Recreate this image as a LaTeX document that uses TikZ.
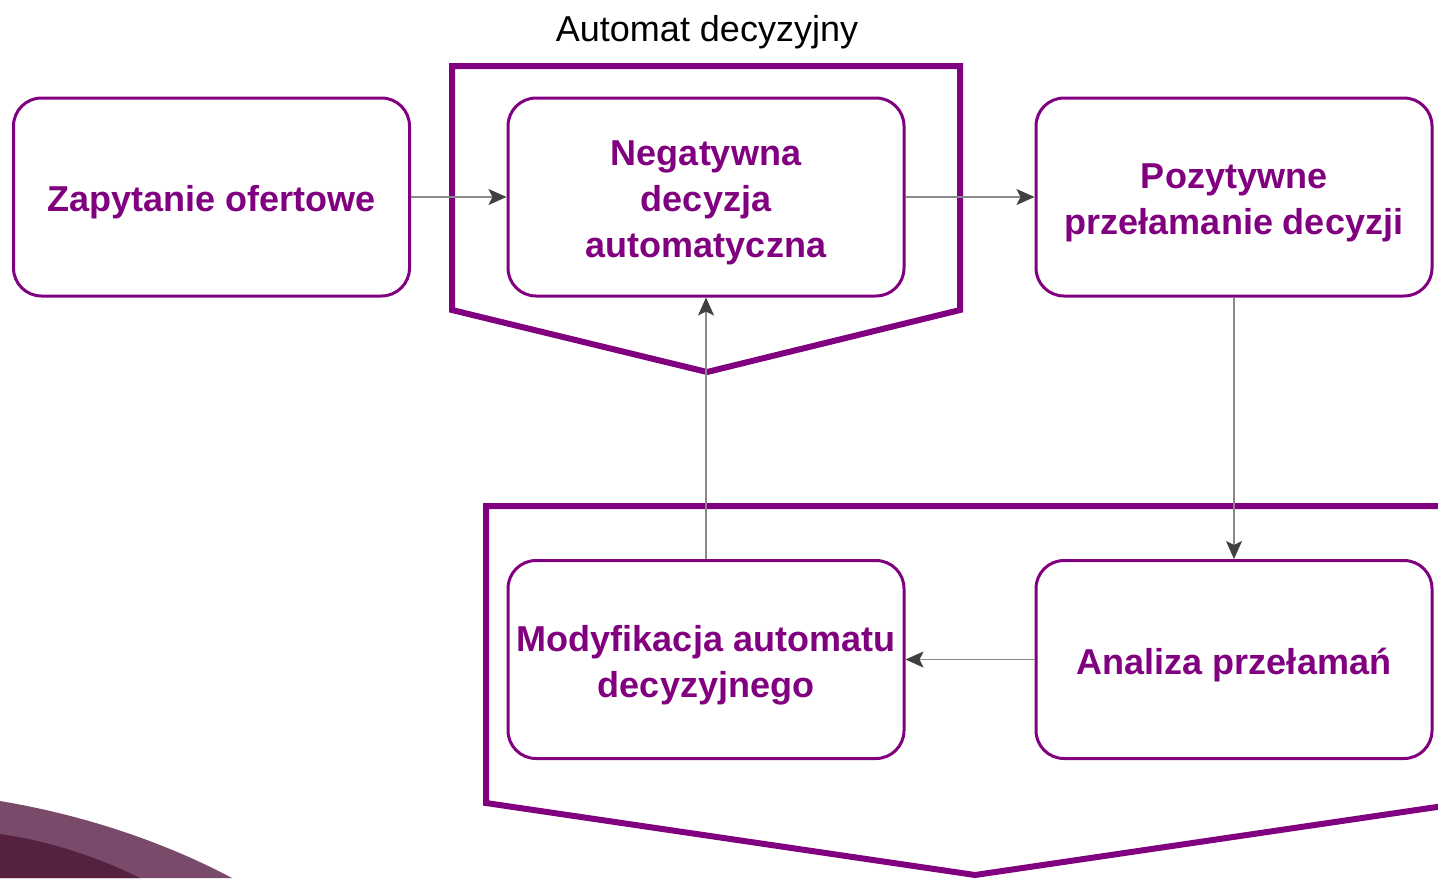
\documentclass[tikz,border=0pt]{standalone}
\usepackage{fontspec}
\setmainfont{Liberation Sans}
\usetikzlibrary{arrows.meta}
\definecolor{pur}{HTML}{800080}
\definecolor{conn}{HTML}{8A8A8A}
\definecolor{tipc}{HTML}{404040}
\definecolor{swlight}{HTML}{7A4A6A}
\definecolor{swdark}{HTML}{56203F}
\tikzset{
  box/.style={draw=pur, line width=1.5pt, rounded corners=14pt, fill=white,
    minimum width=198pt, minimum height=99pt, inner sep=0pt},
  lbl/.style={align=center, inner sep=0pt, yshift=-2.75pt,
    text=pur, font=\fontsize{18}{23}\selectfont\bfseries},
  frame/.style={draw=pur, line width=3pt},
  conn/.style={draw=conn, line width=0.6pt, -{Stealth[length=9pt,width=8pt,inset=2pt,fill=tipc,color=tipc]}},
}
\begin{document}
\begin{tikzpicture}[x=0.5pt,y=-0.5pt]
\useasboundingbox (0,0) rectangle (1438,878);
% swoosh
\fill[swlight] (0,801) .. controls (90,816) and (170,845) .. (232,878) -- (0,878) -- cycle;
\fill[swdark] (0,834) .. controls (50,841) and (100,858) .. (140,878) -- (0,878) -- cycle;
% frames
\draw[frame] (452,310) -- (452,66) -- (960,66) -- (960,310) -- (707,372) -- cycle;
\begin{scope}
\clip (0,0) rectangle (1438,878);
\draw[frame] (486,803) -- (486,506) -- (1464,506) -- (1464,803) -- (975,875) -- cycle;
\end{scope}
\node[font=\fontsize{18}{21}\selectfont] (title) at (707,32) {Automat decyzyjny};
% boxes
\node[box, label={[lbl, name=zapt]center:Zapytanie ofertowe}] (zap) at (211.5,197) {};
\node[box, label={[lbl, name=negt]center:{Negatywna\\decyzja\\automatyczna}}] (neg) at (706,197) {};
\node[box, label={[lbl, name=pozt]center:{Pozytywne\\przełamanie decyzji}}] (poz) at (1234,197) {};
\node[box, label={[lbl, name=modt]center:{Modyfikacja automatu\\decyzyjnego}}] (mod) at (706,659.5) {};
\node[box, label={[lbl, name=anat]center:Analiza przełamań}] (ana) at (1234,659.5) {};
% connectors
\draw[conn] (zap.east) -- (neg.west);
\draw[conn] (neg.east) -- (poz.west);
\draw[conn] (poz.south) -- (ana.north);
\draw[conn] (ana.west) -- (mod.east);
\draw[conn] (mod.north) -- (neg.south);
\end{tikzpicture}
\end{document}
